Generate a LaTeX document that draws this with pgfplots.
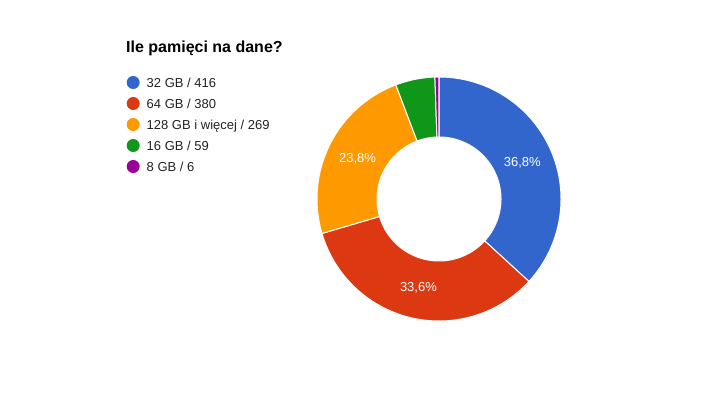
\documentclass[border=0pt]{standalone}
\usepackage{fontspec}
\setmainfont{Liberation Sans}
\usepackage{pgfplots}
\usepackage{pgfplotstable}
\pgfplotsset{compat=1.18}
\definecolor{cA}{HTML}{3366CC}
\definecolor{cB}{HTML}{DC3912}
\definecolor{cC}{HTML}{FF9900}
\definecolor{cD}{HTML}{109618}
\definecolor{cE}{HTML}{990099}
\definecolor{txt}{HTML}{222222}
\pgfplotstableread{
idx value
0 416
1 380
2 269
3 59
4 6
}\memdata
\pgfplotstablegetelem{0}{value}\of\memdata \let\vA\pgfplotsretval
\pgfplotstablegetelem{1}{value}\of\memdata \let\vB\pgfplotsretval
\pgfplotstablegetelem{2}{value}\of\memdata \let\vC\pgfplotsretval
\pgfplotstablegetelem{3}{value}\of\memdata \let\vD\pgfplotsretval
\pgfplotstablegetelem{4}{value}\of\memdata \let\vE\pgfplotsretval
\pgfmathsetmacro\tot{\vA+\vB+\vC+\vD+\vE}
\pgfmathsetmacro\fA{\vA/\tot}
\pgfmathsetmacro\fB{\vB/\tot}
\pgfmathsetmacro\fC{\vC/\tot}
\pgfmathsetmacro\fD{\vD/\tot}
\pgfmathsetmacro\fE{\vE/\tot}
\pgfmathsetmacro\aA{90}
\pgfmathsetmacro\aB{\aA-360*\fA}
\pgfmathsetmacro\aC{\aB-360*\fB}
\pgfmathsetmacro\aD{\aC-360*\fC}
\pgfmathsetmacro\aE{\aD-360*\fD}
\pgfmathsetmacro\aF{\aE-360*\fE}
\pgfmathsetmacro\mA{(\aA+\aB)/2}
\pgfmathsetmacro\mB{(\aB+\aC)/2}
\pgfmathsetmacro\mC{(\aC+\aD)/2}
\pgfmathsetmacro\pA{100*\fA}
\pgfmathsetmacro\pB{100*\fB}
\pgfmathsetmacro\pC{100*\fC}
\def\cx{439}\def\cy{197}\def\Ro{122}\def\Ri{62}\def\Rl{91}
\newcommand\slice[3]{%
\addplot[fill=#1, draw=white, line width=1bp, samples at={0,1,...,201}, variable=\t]
 ({\cx+ifthenelse(\t<=100,\Ro,\Ri)*cos((#2)+((#3)-(#2))*ifthenelse(\t<=100,\t/100,(201-\t)/100))},
  {\cy+ifthenelse(\t<=100,\Ro,\Ri)*sin((#2)+((#3)-(#2))*ifthenelse(\t<=100,\t/100,(201-\t)/100))}) -- cycle;}
\newcommand\pct[1]{\pgfmathprintnumber[fixed,fixed zerofill,precision=1,use comma,assume math mode=true]{#1}\%}
\begin{document}
\begin{tikzpicture}
\begin{axis}[
  width=704bp, height=396bp, scale only axis,
  xmin=0, xmax=704, ymin=0, ymax=396,
  axis lines=none, clip=false,
  legend cell align=left,
  legend style={at={(axis cs:126.5,320.7)}, anchor=north west, draw=none, fill=none,
    inner sep=0pt, row sep=7bp, font=\fontsize{13bp}{15bp}\selectfont, text=txt,
    nodes={inner sep=0pt, text height=12bp, text depth=2bp}},
  legend image code/.code={\path[#1,draw=none] (0bp,0bp) circle (6.5bp); \path (6.5bp,0bp) -- (13bp,0bp);},
]
\addplot[draw=none, forget plot] coordinates {(0,0) (704,396)};
\slice{cA}{\aA}{\aB}\addlegendentry{32 GB / \vA}
\slice{cB}{\aB}{\aC}\addlegendentry{64 GB / \vB}
\slice{cC}{\aC}{\aD}\addlegendentry{128 GB i więcej / \vC}
\slice{cD}{\aD}{\aE}\addlegendentry{16 GB / \vD}
\slice{cE}{\aE}{\aF}\addlegendentry{8 GB / \vE}
\node[text=white, font=\fontsize{13bp}{15bp}\selectfont, inner sep=0] at (axis cs:{\cx+\Rl*cos(\mA)},{\cy+\Rl*sin(\mA)}) {\pct{\pA}};
\node[text=white, font=\fontsize{13bp}{15bp}\selectfont, inner sep=0] at (axis cs:{\cx+\Rl*cos(\mB)},{\cy+\Rl*sin(\mB)}) {\pct{\pB}};
\node[text=white, font=\fontsize{13bp}{15bp}\selectfont, inner sep=0] at (axis cs:{\cx+\Rl*cos(\mC)},{\cy+\Rl*sin(\mC)}) {\pct{\pC}};
\node[anchor=base west, font=\bfseries\fontsize{16bp}{19bp}\selectfont, inner sep=0] at (axis cs:126,343.3) {Ile pamięci na dane?};
\end{axis}
\end{tikzpicture}
\end{document}
